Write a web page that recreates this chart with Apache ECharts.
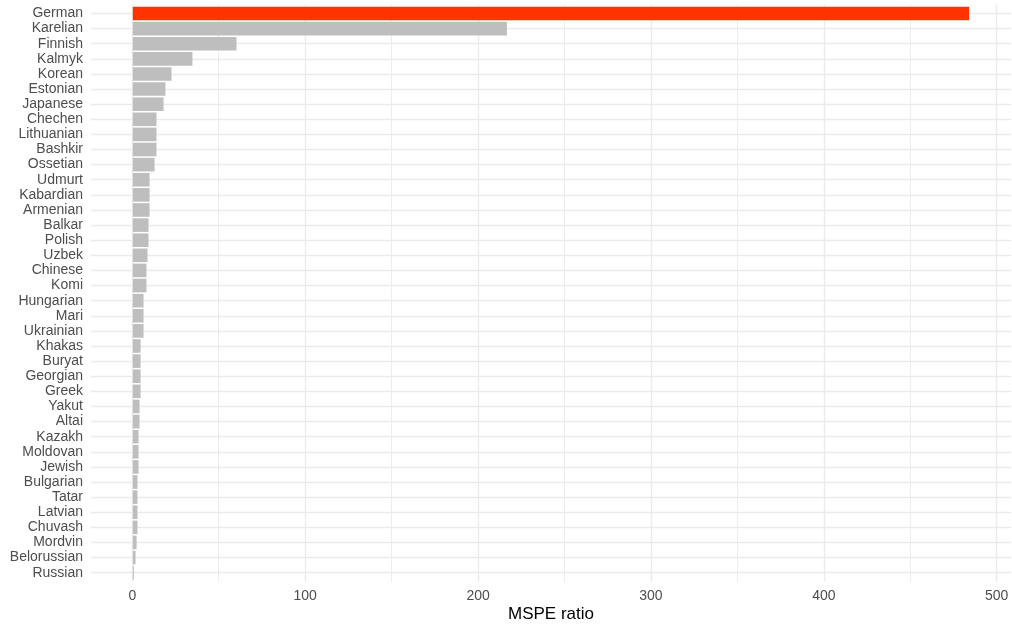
<!DOCTYPE html>
<html>
  <head>
    <meta http-equiv="Content-Type" content="text/html; charset=utf-8">
    <title>MSPE ratio</title>
    <style>
      html, body { margin: 0; padding: 0; background: #fff; }
      #chart { width: 1012px; height: 626px; }
    </style>
    <script src="https://cdn.jsdelivr.net/npm/echarts@6/dist/echarts.min.js"></script>
  </head>
  <body>
    <div id="chart"></div>
    <script type="text/javascript">
      // groups, top to bottom
      var groups = ["German", "Karelian", "Finnish", "Kalmyk", "Korean", "Estonian", "Japanese",
        "Chechen", "Lithuanian", "Bashkir", "Ossetian", "Udmurt", "Kabardian", "Armenian",
        "Balkar", "Polish", "Uzbek", "Chinese", "Komi", "Hungarian", "Mari", "Ukrainian",
        "Khakas", "Buryat", "Georgian", "Greek", "Yakut", "Altai", "Kazakh", "Moldovan",
        "Jewish", "Bulgarian", "Tatar", "Latvian", "Chuvash", "Mordvin", "Belorussian", "Russian"];
      var mspeRatio = [484, 216.5, 60, 34.5, 22.4, 18.9, 17.8,
        13.7, 13.7, 13.7, 12.6, 9.7, 9.7, 9.7,
        9.1, 9.1, 8.5, 7.9, 7.9, 6.2, 6.2, 6.2,
        4.5, 4.5, 4.5, 4.5, 3.9, 3.9, 3.3, 3.3,
        3.3, 2.7, 2.7, 2.7, 2.7, 2.2, 1.6, 0.6];
      var treated = "German";
      var xTicks = [0, 100, 200, 300, 400, 500];

      var font = "'Liberation Sans', Arial, sans-serif";
      var chart = echarts.init(document.getElementById('chart'));

      var barData = groups.map(function (g, i) {
        return {
          value: mspeRatio[i],
          itemStyle: { color: g === treated ? '#ff3300' : '#bebebe' }
        };
      });

      chart.setOption({
        animation: false,
        textStyle: { fontFamily: font },
        grid: [
          { left: 91, right: 1, top: 13.5, bottom: 53.3, outerBoundsMode: 'none', containLabel: false },
          { left: 132.3, right: 15.3, top: 4.4, bottom: 44.2, outerBoundsMode: 'none', containLabel: false }
        ],
        xAxis: [
          {
            gridIndex: 0, type: 'value', min: -24.2, max: 508.2,
            axisLine: { show: false }, axisTick: { show: false },
            axisLabel: { show: false }, splitLine: { show: false },
            name: 'MSPE ratio', nameLocation: 'middle', nameGap: 42,
            nameTextStyle: { fontFamily: font, fontSize: 17, color: '#000', verticalAlign: 'middle' }
          },
          {
            gridIndex: 1, type: 'value', min: xTicks[0], max: xTicks[xTicks.length - 1], interval: 100,
            axisLine: { show: false }, axisTick: { show: false },
            axisLabel: { fontFamily: font, fontSize: 14, color: '#4d4d4d', margin: 7 },
            splitLine: { show: true, lineStyle: { color: '#ebebeb', width: 1.4 } },
            minorTick: { show: false, splitNumber: 2 },
            minorSplitLine: { show: true, lineStyle: { color: '#ebebeb', width: 0.9 } }
          }
        ],
        yAxis: [
          {
            gridIndex: 0, type: 'category', data: groups, inverse: true, boundaryGap: false,
            axisLine: { show: false }, axisTick: { show: false },
            axisLabel: { interval: 0, fontFamily: font, fontSize: 14, color: '#4d4d4d', margin: 8 },
            splitLine: { show: true, interval: 0, lineStyle: { color: '#ebebeb', width: 1.4 } }
          },
          { gridIndex: 1, type: 'value', show: false, min: 0, max: 1 }
        ],
        series: [{
          type: 'bar',
          xAxisIndex: 0,
          yAxisIndex: 0,
          data: barData,
          barWidth: 13.6,
          clip: false,
          z: 3
        }]
      });
    </script>
  </body>
</html>
